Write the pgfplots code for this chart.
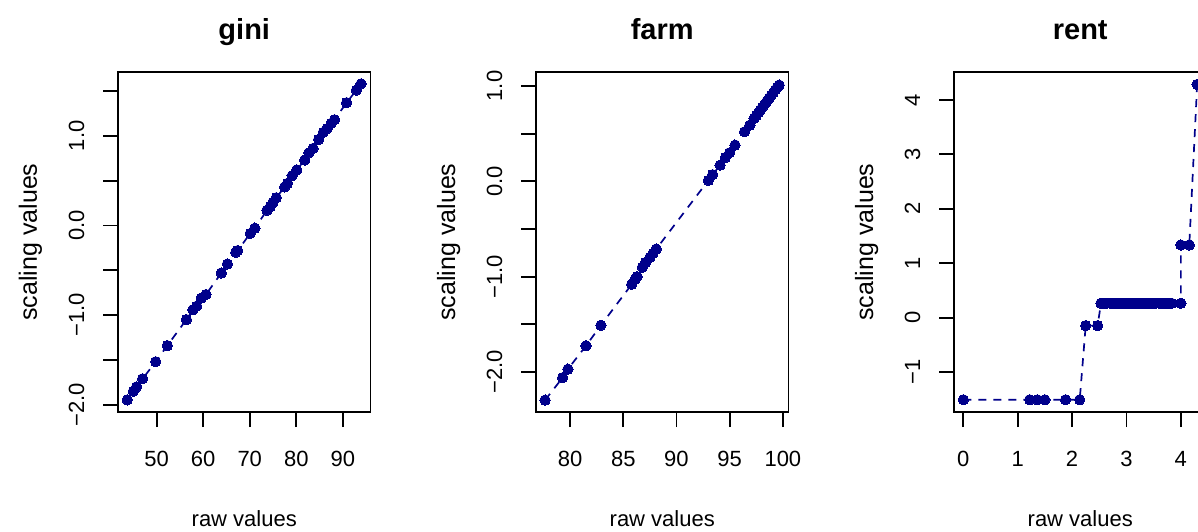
\documentclass[border=0pt]{standalone}
\usepackage{fontspec}
\setmainfont{Liberation Sans}
\usepackage{pgfplots}
\pgfplotsset{compat=1.18}
\definecolor{dblue}{HTML}{00008B}
\pgfplotsset{
  rpanel/.style={
    scale only axis, width=252.5pt, height=340pt, anchor=south west,
    axis line style={line width=1.8pt, black},
    every tick/.style={line width=1.8pt, black},
    tick align=outside, major tick length=15pt,
    tick pos=left, minor tick num=0,
    font=\fontsize{22}{26}\selectfont,
    tick label style={font=\fontsize{22}{26}\selectfont},
    xticklabel style={anchor=base, inner sep=0pt, yshift=-39pt},
    yticklabel style={xshift=-19pt, rotate=90, anchor=base, inner sep=0pt},
    title style={font=\bfseries\fontsize{29}{34}\selectfont, at={(axis description cs:0.5,1.077)}, anchor=base, inner sep=0pt},
    xlabel style={at={(axis description cs:0.5,-0.3353)}, anchor=base, inner sep=0pt},
    ylabel style={font=\fontsize{25}{30}\selectfont, at={(axis description cs:-0.3208,0.5)}, anchor=base, inner sep=0pt},
    xlabel={raw values}, ylabel={scaling values},
  },
  rline/.style={color=dblue, line width=1.7pt, dash pattern=on 8pt off 7pt,
      mark=*, mark size=5.2pt, mark options={solid, fill=dblue, draw=dblue, line width=0pt}},
}
\begin{document}
\begin{tikzpicture}[x=1pt,y=1pt]
\useasboundingbox (0,0) rectangle (1198,531);
\clip (0,0) rectangle (1198,531);
% ---------------- gini
\begin{axis}[rpanel, at={(118pt,119pt)}, title={gini},
  xmin=41.71, xmax=95.93, ymin=-2.081, ymax=1.712,
  xtick={50,60,70,80,90}, xticklabels={50,60,70,80,90},
  ytick={-2,-1.5,-1,-0.5,0,0.5,1,1.5},
  yticklabels={−2.0,,−1.0,,0.0,,1.0,}]
\addplot[rline] table {
43.7 -1.945
45.0 -1.85
45.7 -1.80
47.0 -1.71
49.8 -1.52
52.3 -1.34
56.4 -1.05
57.8 -0.94
58.6 -0.90
59.6 -0.81
60.6 -0.77
63.9 -0.53
65.2 -0.43
67.0 -0.30
67.4 -0.28
70.1 -0.09
71.1 -0.03
73.7 0.17
74.4 0.21
75.0 0.26
75.7 0.31
77.5 0.43
78.1 0.47
79.1 0.555
80.1 0.62
81.8 0.73
82.7 0.81
83.6 0.86
84.8 0.96
85.8 1.04
86.6 1.08
87.5 1.14
88.2 1.18
90.8 1.37
92.9 1.51
93.9 1.58
};
\end{axis}
% ---------------- farm
\begin{axis}[rpanel, at={(536pt,119pt)}, title={farm},
  xmin=76.8, xmax=100.53, ymin=-2.42, ymax=1.147,
  xtick={80,85,90,95,100}, xticklabels={80,85,90,95,100},
  ytick={-2,-1.5,-1,-0.5,0,0.5,1},
  yticklabels={−2.0,,−1.0,,0.0,,1.0}]
\addplot[rline] table {
77.65 -2.295
79.3 -2.06
79.8 -1.97
81.5 -1.725
82.9 -1.51
85.8 -1.08
86.1 -1.03
86.3 -1.00
86.8 -0.90
87.1 -0.85
87.5 -0.80
87.8 -0.755
88.1 -0.71
93.0 0.01
93.4 0.07
94.1 0.17
94.6 0.25
95.0 0.30
95.5 0.38
96.4 0.52
96.9 0.59
97.3 0.66
97.5 0.69
97.7 0.72
97.9 0.75
98.1 0.78
98.3 0.81
98.5 0.84
98.7 0.87
98.9 0.90
99.1 0.93
99.3 0.96
99.5 0.99
99.65 1.01
};
\end{axis}
% ---------------- rent
\begin{axis}[rpanel, at={(954pt,119pt)}, title={rent},
  xmin=-0.172, xmax=4.472, ymin=-1.735, ymax=4.514,
  xtick={0,1,2,3,4}, xticklabels={0,1,2,3,4},
  ytick={-1,0,1,2,3,4}, yticklabels={−1,0,1,2,3,4}]
\addplot[rline] table {
0 -1.51
1.22 -1.51
1.36 -1.51
1.50 -1.51
1.88 -1.51
2.14 -1.51
2.25 -0.147
2.47 -0.147
2.53 0.264
2.58 0.264
2.64 0.264
2.70 0.264
2.76 0.264
2.82 0.264
2.88 0.264
2.94 0.264
3.00 0.264
3.06 0.264
3.12 0.264
3.18 0.264
3.24 0.264
3.30 0.264
3.36 0.264
3.42 0.264
3.48 0.264
3.54 0.264
3.60 0.264
3.66 0.264
3.72 0.264
3.78 0.264
3.83 0.264
4.00 0.264
4.00 1.335
4.155 1.335
4.30 4.285
};
\end{axis}
\end{tikzpicture}
\end{document}
